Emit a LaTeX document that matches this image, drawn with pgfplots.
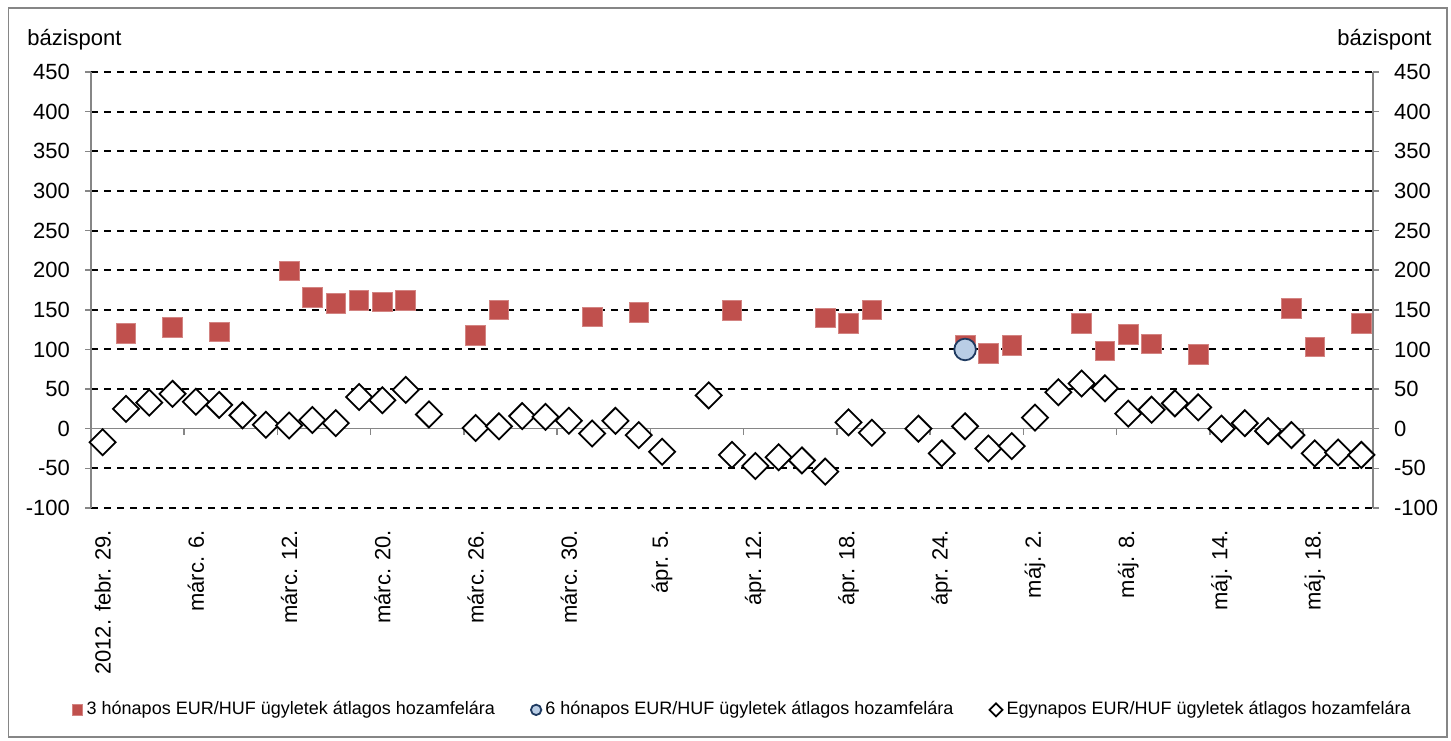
\documentclass[border=0pt]{standalone}
\usepackage{fontspec}
\setmainfont{Liberation Sans}
\usepackage{pgfplots}
\usepackage{pgfplotstable}
\pgfplotsset{compat=1.18}
\definecolor{sqred}{HTML}{C0504D}
\definecolor{circfill}{HTML}{B9CDE5}
\definecolor{circedge}{HTML}{1F3A60}
\definecolor{axgray}{HTML}{868686}

\pgfplotsset{
  legsq/.style={legend image code/.code={\draw[##1, mark size=2.6pt] plot coordinates {(0pt,0pt)};}},
  legci/.style={legend image code/.code={\draw[##1, mark size=2.6pt, line width=0.6pt] plot coordinates {(0pt,0pt)};}},
  legdi/.style={legend image code/.code={\draw[##1, mark size=2.3pt, line width=0.6pt] plot coordinates {(0pt,0pt)};}},
}

\pgfplotstableread{
x y
1 120
3 128
5 122
8 199
9 166
10 158
11 162
12 160
13 162
16 118
17 150
21 141
23 147
27 149
31 140
32 133
33 150
37 106
38 95
39 105
42 133
43 98
44 119
45 107
47 94
51 152
52 103
54 133
}\threemonth

\pgfplotstableread{
x y
37 100
}\sixmonth

\pgfplotstableread{
x y
0 -17
1 25
2 33
3 44
4 34
5 30
6 17
7 5
8 4
9 11
10 7
11 40
12 36
13 49
14 18
16 1
17 3
18 16
19 15
20 10
21 -6
22 10
23 -8
24 -29
26 42
27 -33
28 -47
29 -36
30 -40
31 -54
32 8
33 -5
35 0
36 -31
37 3
38 -25
39 -22
40 14
41 46
42 57
43 51
44 19
45 24
46 32
47 27
48 0
49 7
50 -3
51 -8
52 -31
53 -30
54 -33
}\onenight

\begin{document}
\begin{tikzpicture}
\path[use as bounding box] (0,0) rectangle (725.5pt,370pt);
\draw[axgray, line width=0.6pt] (4.25pt,1.5pt) rectangle (723.5pt,366pt);
\node[anchor=west, inner sep=0pt, font=\fontsize{11}{13}\selectfont] at (13.5pt,350pt) {bázispont};
\node[anchor=east, inner sep=0pt, font=\fontsize{11}{13}\selectfont] at (716pt,350pt) {bázispont};

% right axis and zero line
\begin{axis}[
  at={(45.5pt,116pt)}, anchor=south west,
  scale only axis, width=641pt, height=218pt,
  xmin=-0.5, xmax=54.5, ymin=-100, ymax=450,
  axis x line*=middle, axis y line*=right,
  axis line style={axgray, line width=0.75pt},
  xtick={3.5,7.5,...,51.5}, xticklabels={},
  ytick={-100,-50,...,450},
  tick align=outside, major tick length=3pt,
  tick style={axgray, line width=0.75pt},
  yticklabel style={font=\fontsize{11}{13}\selectfont, xshift=4pt},
  /pgf/number format/assume math mode=true,
]
\addplot[draw=none] coordinates {(0,0)};
\end{axis}

% main axis
\begin{axis}[
  at={(45.5pt,116pt)}, anchor=south west,
  scale only axis, width=641pt, height=218pt,
  xmin=-0.5, xmax=54.5, ymin=-100, ymax=450,
  axis y line*=left, axis x line*=bottom,
  x axis line style={draw=none},
  y axis line style={axgray, line width=0.75pt},
  xtick={0,4,8,12,16,20,24,28,32,36,40,44,48,52},
  xticklabels={2012. febr. 29., márc. 6., márc. 12., márc. 20., márc. 26., márc. 30., ápr. 5., ápr. 12., ápr. 18., ápr. 24., máj. 2., máj. 8., máj. 14., máj. 18.},
  xtick style={draw=none},
  xticklabel shift=4.5pt,
  xticklabel style={rotate=90, anchor=east, font=\fontsize{11}{13}\selectfont},
  ytick={-100,-50,50,100,150,200,250,300,350,400,450},
  extra y ticks={0}, extra y tick style={grid=none},
  ymajorgrids,
  major grid style={black, line width=1pt, dash pattern=on 3.7pt off 2.8pt},
  ytick style={axgray, line width=0.75pt},
  tick align=outside, major tick length=3pt,
  yticklabel style={font=\fontsize{11}{13}\selectfont, xshift=-4pt},
  /pgf/number format/assume math mode=true,
  legend columns=3,
  legend cell align=left,
  legend style={draw=none, fill=none, at={(0.509,-0.463)}, anchor=center,
    font=\fontsize{9}{11}\selectfont,
    /tikz/every even column/.append style={column sep=16pt}},
]
\addplot[only marks, mark=square*, mark size=4.9pt,
  mark options={fill=sqred, draw=sqred!70!white, line width=0.4pt}, legsq]
  table {\threemonth};
\addlegendentry{3 hónapos EUR/HUF ügyletek átlagos hozamfelára}
\addplot[only marks, mark=*, mark size=5.4pt,
  mark options={fill=circfill, draw=circedge, line width=0.9pt}, legci]
  table {\sixmonth};
\addlegendentry{6 hónapos EUR/HUF ügyletek átlagos hozamfelára}
\addplot[only marks, mark=square*, mark size=4.6pt,
  mark options={rotate=45, fill=white, draw=black, line width=0.9pt}, legdi]
  table {\onenight};
\addlegendentry{Egynapos EUR/HUF ügyletek átlagos hozamfelára}
\end{axis}
\end{tikzpicture}
\end{document}
